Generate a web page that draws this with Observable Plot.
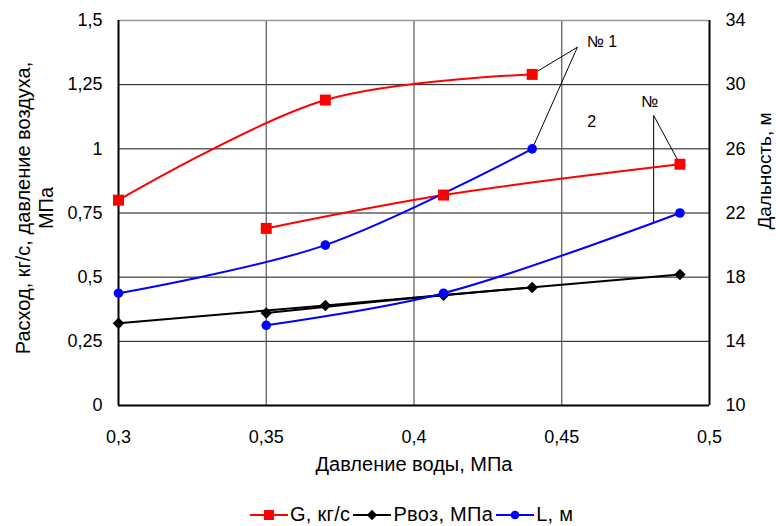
<!DOCTYPE html>
<html><head><meta charset="utf-8">
<script src="https://cdn.jsdelivr.net/npm/d3@7"></script>
<script src="https://cdn.jsdelivr.net/npm/@observablehq/plot@0.6"></script>
<style>
body{margin:0;background:#fff;font-family:"Liberation Sans",Arial,sans-serif;}
#wrap{position:relative;width:776px;height:526px;overflow:hidden;}
#legend{position:absolute;left:250px;top:503px;display:flex;font-size:20px;letter-spacing:0.3px;color:#000;align-items:center;white-space:nowrap;}
#legend .item{display:flex;align-items:center;margin-right:3px;}
#legend svg{margin-right:2px;}
</style></head><body><div id="wrap"></div>
<script>
// Water pressure (MPa) for the two experiment series
const pressure1 = [0.3, 0.37, 0.44];
const pressure2 = [0.35, 0.41, 0.49];
// G, kg/s (left axis)
const G1 = [0.80, 1.19, 1.29];
const G2 = [0.69, 0.82, 0.94];
// Pвоз, MPa (left axis)
const P1 = [0.32, 0.39, 0.46];
const P2 = [0.36, 0.43, 0.51];
// L, m (right axis)
const L1 = [17, 20, 26];
const L2 = [15, 17, 22];
// ticks
const xTicks = [0.3, 0.35, 0.4, 0.45, 0.5];
const yTicks = [0, 0.25, 0.5, 0.75, 1, 1.25, 1.5];
const rightTicks = [10, 14, 18, 22, 26, 30, 34];
const rightMin = 10, rightMax = 34;
// annotation callouts (data units: x in MPa, y on left axis)
const annoLabels = [
  {x: 0.4636, y: 1.416, text: "№ 1"},
  {x: 0.4797, y: 1.184, text: "№"},
  {x: 0.4601, y: 1.106, text: "2"}
];
const annoLinks = [
  {x1: 0.4553, y1: 1.396, x2: 0.44, y2: 1.29},
  {x1: 0.4553, y1: 1.396, x2: 0.44, y2: (26 - 10) / 16},
  {x1: 0.4811, y1: 1.13, x2: 0.49, y2: 0.94},
  {x1: 0.4811, y1: 1.13, x2: 0.4811, y2: 0.715}
];

const toLeft = L => (L - rightMin) * 1.5 / (rightMax - rightMin);
const rows = (xs, ys, f = v => v) => xs.map((x, i) => ({x, y: f(ys[i])}));
const fmt = d => String(d).replace(".", ",");

const red = "#ff0000", blue = "#0000ff", black = "#000000";
const font = "Liberation Sans, Arial, sans-serif";

const series = [
  {data: rows(pressure1, G1), color: red, symbol: "square", r: 6.2},
  {data: rows(pressure2, G2), color: red, symbol: "square", r: 6.2},
  {data: rows(pressure1, P1), color: black, symbol: "diamond2", r: 5.2},
  {data: rows(pressure2, P2), color: black, symbol: "diamond2", r: 5.2},
  {data: rows(pressure1, L1, toLeft), color: blue, symbol: "circle", r: 4.8},
  {data: rows(pressure2, L2, toLeft), color: blue, symbol: "circle", r: 4.8}
];

const chart = Plot.plot({
  width: 776,
  height: 500,
  marginLeft: 118,
  marginRight: 67,
  marginTop: 20,
  marginBottom: 95,
  style: {fontFamily: font, background: "#fff", color: "#000", overflow: "visible"},
  x: {domain: [0.3, 0.5]},
  y: {domain: [0, 1.5]},
  marks: [
    Plot.ruleY(yTicks.slice(1, -1), {stroke: "#111", strokeWidth: 1}),
    Plot.ruleX(xTicks.slice(1, -1), {stroke: "#555", strokeWidth: 1.2}),
    Plot.ruleY([1.5], {stroke: "#999", strokeWidth: 1.5}),
    Plot.ruleY([0], {stroke: "#000", strokeWidth: 2}),
    Plot.ruleX([0.3], {stroke: "#000", strokeWidth: 2}),
    Plot.ruleX([0.5], {stroke: "#000", strokeWidth: 2}),
    Plot.link(annoLinks, {x1: "x1", y1: "y1", x2: "x2", y2: "y2", stroke: "#000", strokeWidth: 1}),
    ...series.map(s => Plot.line(s.data, {x: "x", y: "y", stroke: s.color, strokeWidth: 2, curve: "catmull-rom"})),
    ...series.map(s => Plot.dot(s.data, {x: "x", y: "y", fill: s.color, stroke: "none", symbol: s.symbol, r: s.r})),
    Plot.text(annoLabels, {x: "x", y: "y", text: "text", fontSize: 16, fill: "#000"}),
    Plot.axisX({ticks: xTicks, tickFormat: fmt, tickSize: 0, tickPadding: 25, fontSize: 18, label: null}),
    Plot.axisY({ticks: yTicks, tickFormat: fmt, tickSize: 0, tickPadding: 16, fontSize: 18, label: null, anchor: "left"}),
    Plot.axisY({ticks: rightTicks.map(toLeft), tickFormat: d => fmt(Math.round(rightMin + d * (rightMax - rightMin) / 1.5)), tickSize: 0, tickPadding: 16, fontSize: 18, label: null, anchor: "right"}),
    Plot.text(["Давление воды, МПа"], {frameAnchor: "bottom", dy: 65, fontSize: 20, fill: "#000", textAnchor: "middle"}),
    Plot.text(["Расход, кг/с, давление воздуха,\nМПа"], {frameAnchor: "left", dx: -84.5, dy: -5, rotate: -90, fontSize: 20, lineHeight: 1.15, fill: "#000", textAnchor: "middle"}),
    Plot.text(["Дальность, м"], {frameAnchor: "right", dx: 55, dy: -42, rotate: -90, fontSize: 19, fill: "#000", textAnchor: "middle", style: "letter-spacing:1px"})
  ]
});

const wrap = document.getElementById("wrap");
wrap.appendChild(chart);

// legend
const legendItems = [
  {label: "G, кг/с", color: red, symbol: d3.symbolSquare, size: 100},
  {label: "Рвоз, МПа", color: black, symbol: d3.symbolDiamond2, size: 70},
  {label: "L, м", color: blue, symbol: d3.symbolCircle, size: 60}
];
const legend = document.createElement("div");
legend.id = "legend";
for (const it of legendItems) {
  const item = document.createElement("span");
  item.className = "item";
  const svg = d3.create("svg").attr("width", 38).attr("height", 14);
  svg.append("line").attr("x1", 0).attr("x2", 38).attr("y1", 7).attr("y2", 7).attr("stroke", it.color).attr("stroke-width", 2);
  svg.append("path").attr("d", d3.symbol(it.symbol, it.size)()).attr("transform", "translate(19,7)").attr("fill", it.color);
  item.appendChild(svg.node());
  const t = document.createElement("span");
  t.textContent = it.label;
  item.appendChild(t);
  legend.appendChild(item);
}
wrap.appendChild(legend);
</script>
</body></html>
